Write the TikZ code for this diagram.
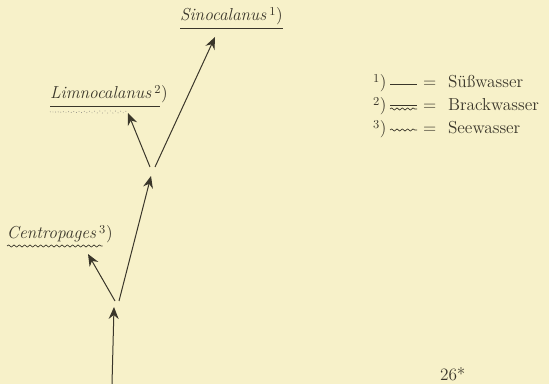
\documentclass[tikz,border=0pt]{standalone}
\usetikzlibrary{arrows.meta,decorations.pathmorphing}
\definecolor{paper}{RGB}{247,241,201}
\definecolor{ink}{RGB}{58,54,42}
\newcommand\fnmark[1]{\,{\upshape\textsuperscript{#1})}}
\begin{document}
\begin{tikzpicture}[x=0.75pt,y=-0.75pt,
  every node/.style={inner sep=0pt,outer sep=0pt,text=ink,font=\fontsize{13}{15}\selectfont},
  rule/.style={draw=ink,line width=0.6pt},
  sea/.style={draw=ink,line width=0.5pt,decorate,decoration={snake,amplitude=0.8pt,segment length=4pt}},
  branch/.style={draw=ink,line width=0.75pt,-{Stealth[length=9pt,width=7.5pt,inset=3pt]}}]
\fill[paper] (0,0) rectangle (549,384);
\useasboundingbox (0,0) rectangle (549,384);

% stem and branch points
\coordinate (root) at (112,384);
\coordinate (t0)   at (114,307);
\coordinate (s1l)  at (115,301);
\coordinate (s1r)  at (119,301);
\coordinate (tC)   at (88,254);
\coordinate (t1)   at (151,176);
\coordinate (s2l)  at (150,167);
\coordinate (s2r)  at (155,167);
\coordinate (tL)   at (128,113);
\coordinate (tS)   at (215,37);

\draw[branch] (root) -- (t0);
\draw[branch] (s1l) -- (tC);
\draw[branch] (s1r) -- (t1);
\draw[branch] (s2l) -- (tL);
\draw[branch] (s2r) -- (tS);

% genus names with habitat underlines
\node[anchor=base west] (sino) at (180,21) {\textit{Sinocalanus}\fnmark{1}};
\draw[rule] ([yshift=-5.25pt]sino.base west) -- ([yshift=-5.25pt]sino.base east);

\node[anchor=base west] (limno) at (50,99) {\textit{Limnocalanus}\fnmark{2}};
\draw[rule] ([yshift=-5.25pt]limno.base west) -- ([yshift=-5.25pt,xshift=-6pt]limno.base east);
\draw[sea,draw=ink!60,dotted] ([yshift=-9.75pt]limno.base west) -- ([yshift=-9.75pt]limno.base west -| tL);

\node[anchor=base west] (centro) at (7,239) {\textit{Centropages}\fnmark{3}};
\draw[sea] ([yshift=-5.25pt]centro.base west) -- ([yshift=-5.25pt,xshift=-7.5pt]centro.base east);

% legend
\node[anchor=base west] (k1) at (373,88) {\textsuperscript{1})};
\node[anchor=base west] (e1) at (423,88) {=};
\node[anchor=base west] (w1) at (448,88) {Süßwasser};
\coordinate (a1) at (390,84);
\coordinate (b1) at (417,84);
\draw[rule] (a1) -- (b1);

\node[anchor=base west] (k2) at (373,111) {\textsuperscript{2})};
\node[anchor=base west] (e2) at (423,111) {=};
\node[anchor=base west] (w2) at (448,111) {Brackwasser};
\coordinate (a2) at (390,105);
\coordinate (b2) at (417,105);
\coordinate (c2) at (390,109);
\coordinate (d2) at (417,109);
\draw[rule,line width=0.5pt] (a2) -- (b2);
\draw[sea] (c2) -- (d2);

\node[anchor=base west] (k3) at (373,134) {\textsuperscript{3})};
\node[anchor=base west] (e3) at (423,134) {=};
\node[anchor=base west] (w3) at (448,134) {Seewasser};
\coordinate (a3) at (390,130);
\coordinate (b3) at (417,130);
\draw[sea] (a3) -- (b3);

% page number
\node[anchor=base west] (page) at (440,380) {26*};
\end{tikzpicture}
\end{document}
